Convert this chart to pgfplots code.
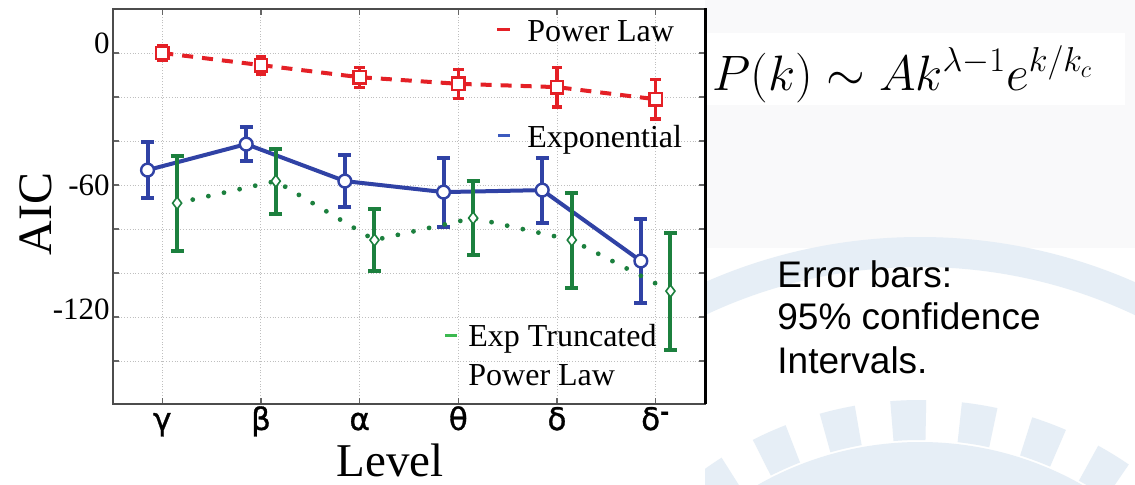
\documentclass[border=0pt]{standalone}
\usepackage{pgfplots}
\pgfplotsset{compat=1.18}
\usepackage{pgfplotstable}
\usepackage{fontspec}
\setmainfont{Liberation Serif}
\newfontfamily\sansfont{Liberation Sans}
\newfontfamily\greekfont[FakeBold=1]{DejaVu Sans}
\definecolor{plred}{RGB}{228,32,38}
\definecolor{plblue}{RGB}{48,66,165}
\definecolor{plgreen}{RGB}{28,128,62}
\definecolor{legblue}{RGB}{60,90,190}
\definecolor{leggreen}{RGB}{60,185,80}
\definecolor{wm}{RGB}{230,238,246}
\definecolor{bggray}{RGB}{249,249,250}

\pgfplotstableread{
x y e
0 0 3.5
1 -5.5 4
2 -11 4.5
3 -14 6.6
4 -15.5 9
5 -21 9
}\redtab
\pgfplotstableread{
x y e
-0.15 -53.2 12.7
0.85 -41.4 7.7
1.85 -58.2 12
2.85 -63.2 15.7
3.85 -62.3 14.8
4.85 -94.5 19.3
}\bluetab
\pgfplotstableread{
x y e
0.15 -68.2 21.6
1.15 -58.2 14.8
2.15 -85 14
3.15 -75 17
4.15 -85 21.6
5.15 -108.2 26.6
}\greentab

\begin{document}
\begin{tikzpicture}
\useasboundingbox (-56.5pt,-40pt) rectangle (511pt,202pt);
\fill[white] (-56.5pt,-40pt) rectangle (511pt,202pt);
\begin{scope}
\clip (296pt,-40pt) rectangle (511pt,202pt);
\fill[bggray] (296pt,78pt) rectangle (511pt,202pt);
\fill[white] (296pt,149.5pt) rectangle (506pt,185.5pt);
\draw[wm, line width=15pt] (403.5pt,-183pt) circle (259pt);
\draw[wm, line width=20pt, dash pattern=on 17pt off 17pt] (403.5pt,-183pt) circle (175pt);
\draw[wm, line width=22pt] (403.5pt,-183pt) circle (153pt);
\end{scope}
\begin{axis}[
  scale only axis, width=296pt, height=197.5pt,
  at={(0,0)}, anchor=south west,
  axis background/.style={fill=white},
  xmin=-0.5, xmax=5.5, ymin=-159.5, ymax=20,
  xtick={0,1,2,3,4,5},
  xticklabels={γ,β,α,θ,δ,δ\textsuperscript{\textbf{-}}},
  ytick={-140,-120,-100,-80,-60,-40,-20,0},
  yticklabels={{},\raisebox{-1pt}{-120},{},{},\raisebox{-5pt}{-60},{},{},0},
  grid=major, grid style={densely dotted, gray!50, line width=0.5pt},
  axis line style={black!70, line width=1pt},
  tick style={black!60, line width=0.6pt}, major tick length=3pt,
  xticklabel style={font=\greekfont\fontsize{15.5}{18}\selectfont, anchor=base, yshift=-13pt},
  yticklabel style={font=\fontsize{15.5}{18}\selectfont, anchor=base east, inner sep=0pt, xshift=-1.5pt},
]
\addplot[plred, line width=2pt, dash pattern=on 5.5pt off 4.5pt,
  mark=square*, mark size=3.1pt, mark options={solid, fill=white, line width=1.2pt},
  error bars/.cd, y dir=both, y explicit,
  error bar style={solid, line width=1.6pt},
  error mark options={rotate=90, mark size=2.6pt, line width=1.6pt, solid}]
  table[x=x, y=y, y error=e]{\redtab};
\addplot[plblue, line width=2pt,
  mark=*, mark size=3.2pt, mark options={solid, fill=white, line width=1.2pt},
  error bars/.cd, y dir=both, y explicit,
  error bar style={solid, line width=2pt},
  error mark options={rotate=90, mark size=3.2pt, line width=2pt, solid}]
  table[x=x, y=y, y error=e]{\bluetab};
\addplot[plgreen, line width=2.4pt, dash pattern=on 0pt off 8pt, line cap=round,
  mark=diamond*, mark size=3pt, mark options={solid, fill=white, line width=0.8pt},
  error bars/.cd, y dir=both, y explicit,
  error bar style={solid, line width=2pt, line cap=butt},
  error mark options={rotate=90, mark size=3.2pt, line width=2pt, solid, line cap=butt}]
  table[x=x, y=y, y error=e]{\greentab};
\end{axis}
\draw[black, line width=1.5pt] (296pt,0pt) -- (296pt,198pt);
% legend entries
\draw[plred, line width=1.5pt] (192pt,187.5pt) -- (198.5pt,187.5pt);
\node[anchor=base west, inner sep=0pt, font=\fontsize{16}{19}\selectfont] at (207pt,181.5pt) {Power Law};
\draw[legblue, line width=1.5pt] (192.5pt,134.5pt) -- (198.5pt,134.5pt);
\node[anchor=base west, inner sep=0pt, font=\fontsize{16}{19}\selectfont] at (207pt,128.5pt) {Exponential};
\draw[leggreen, line width=1.5pt] (166pt,34.5pt) -- (172pt,34.5pt);
\node[anchor=base west, inner sep=0pt, font=\fontsize{16}{19}\selectfont] at (177.5pt,29pt) {Exp Truncated};
\node[anchor=base west, inner sep=0pt, font=\fontsize{16}{19}\selectfont] at (177.5pt,9.5pt) {Power Law};
% axis labels
\node[rotate=90, inner sep=0pt, font=\fontsize{24}{28}\selectfont] at (-38.5pt,95pt) {AIC};
\node[anchor=base, inner sep=0pt, font=\fontsize{23.5}{28}\selectfont] at (138.5pt,-36pt) {Level};
% formula and note
\node[anchor=base west, inner sep=0pt, font=\fontsize{26}{30}\selectfont] at (299.5pt,157pt) {$P(k) \sim Ak^{\lambda-1}e^{k/k_c}$};
\node[anchor=base west, inner sep=0pt, font=\sansfont\fontsize{18.5}{22}\selectfont] at (332pt,58.5pt) {Error bars:};
\node[anchor=base west, inner sep=0pt, font=\sansfont\fontsize{18.5}{22}\selectfont] at (332pt,37.5pt) {95\% confidence};
\node[anchor=base west, inner sep=0pt, font=\sansfont\fontsize{18.5}{22}\selectfont] at (332pt,15.5pt) {Intervals.};
\end{tikzpicture}
\end{document}
